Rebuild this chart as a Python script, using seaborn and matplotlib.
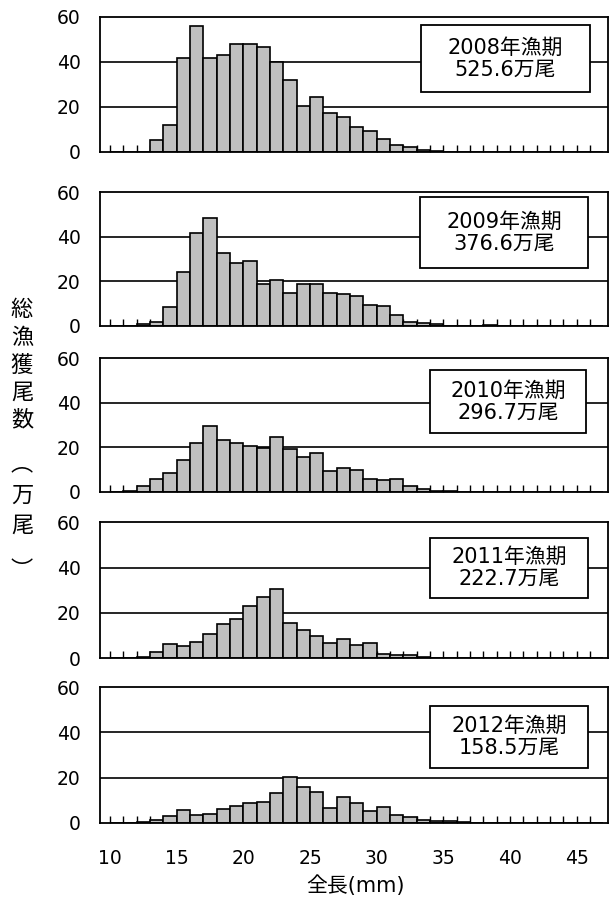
import numpy as np
import pandas as pd
import matplotlib
matplotlib.use("Agg")
import matplotlib.pyplot as plt
from matplotlib.patches import Rectangle
import seaborn as sns

sns.set_style("white")
plt.rcParams['font.family'] = ['DejaVu Sans', 'Noto Sans CJK JP']
plt.rcParams['text.color'] = 'black'
plt.rcParams['xtick.color'] = 'black'
plt.rcParams['ytick.color'] = 'black'
plt.rcParams['axes.labelcolor'] = 'black'

# length bins (mm, left edge of each 1 mm class)
length_bins = list(range(11, 39))

catch_2008 = [0, 0, 5, 12, 41.5, 56, 41.5, 43, 48, 47.7, 46.5, 40, 31.9, 20.3,
              24.1, 17.3, 15.6, 11, 9.2, 5.5, 3.2, 2.0, 0.9, 0.5, 0, 0, 0, 0]
catch_2009 = [0, 0.7, 1.5, 8.5, 24.3, 41.5, 48.3, 32.5, 28, 29.2, 18.6, 20.5, 14.8, 18.6,
              18.6, 14.8, 14.4, 13.5, 9.5, 8.7, 4.8, 1.8, 1.4, 0.8, 0, 0, 0, 0.3]
catch_2010 = [0.4, 2.5, 5.5, 8.5, 14.2, 21.7, 29.7, 23.2, 21.7, 20.5, 19.5, 24.4, 19.2, 15.4,
              17.5, 9.5, 10.6, 9.6, 5.8, 5.1, 5.8, 2.7, 1.2, 0.3, 0.2, 0, 0, 0]
catch_2011 = [0.3, 0.7, 2.9, 6.2, 5.4, 7.4, 10.7, 15, 17.4, 23.1, 27.2, 30.4, 15.7, 12.5,
              10, 6.8, 8.3, 5.9, 6.6, 2.0, 1.6, 1.5, 0.4, 0.2, 0, 0, 0, 0]
catch_2012 = [0, 0.4, 1.2, 3.0, 5.6, 3.4, 3.8, 5.9, 7.5, 8.6, 9.3, 13, 20.4, 16,
              13.4, 6.4, 11.2, 8.6, 5.0, 6.8, 3.5, 2.6, 1.1, 0.6, 0.6, 0.3, 0, 0]

years = ["2008年漁期", "2009年漁期", "2010年漁期", "2011年漁期", "2012年漁期"]
totals = ["525.6万尾", "376.6万尾", "296.7万尾", "222.7万尾", "158.5万尾"]
series = [catch_2008, catch_2009, catch_2010, catch_2011, catch_2012]

# panel layout in pixels (top, bottom) and label boxes (left, right, top, bottom) in pixels
W, H = 614, 900
panels = [(16.7, 151.7), (192.3, 325.7), (358.3, 491.7), (522.3, 658.3), (687.3, 822.7)]
boxes = [(421, 590, 25, 92), (420, 588, 197, 268), (430, 586, 370, 433),
         (430, 588, 538, 598), (430, 588, 706, 768)]

fig = plt.figure(figsize=(W / 100, H / 100), dpi=100)

for i, (vals, (top, bot)) in enumerate(zip(series, panels)):
    ax = fig.add_axes([100 / W, 1 - bot / H, 508 / W, (bot - top) / H])
    df = pd.DataFrame({"length": np.array(length_bins) + 0.5, "count": vals})
    df = df[df["count"] > 0]
    sns.histplot(data=df, x="length", weights="count", binwidth=1, binrange=(10, 47),
                 ax=ax, color="#c0c0c0", edgecolor="black", linewidth=1.2, alpha=1,
                 zorder=3)
    ax.set_xlim(9.25, 47.35)
    ax.set_ylim(0, 60)
    ax.set_yticks([0, 20, 40, 60])
    for g in [20, 40]:
        ax.axhline(g, color="black", lw=1.2, zorder=1)
    ax.set_xticks(range(10, 47))
    if i == 4:
        ax.set_xticklabels([str(t) if t % 5 == 0 else "" for t in range(10, 47)])
    else:
        ax.set_xticklabels([])
    ax.tick_params(axis="x", direction="in", length=5, width=1.0, pad=19,
                   labelsize=13.5, bottom=True, colors="black")
    ax.tick_params(axis="y", length=0, pad=14, labelsize=13.5, colors="black")
    for s in ax.spines.values():
        s.set_color("black")
        s.set_linewidth(1.3)
        s.set_visible(True)
        s.set_zorder(5)
    ax.set_xlabel("")
    ax.set_ylabel("")

    # label box
    bl, br, bt, bb = boxes[i]
    ax_w, ax_h = 508, bot - top
    x0 = (bl - 100) / ax_w
    y0 = 1 - (bb - top) / ax_h
    ax.add_patch(Rectangle((x0, y0), (br - bl) / ax_w, (bb - bt) / ax_h,
                           transform=ax.transAxes, facecolor="white",
                           edgecolor="black", lw=1.3, zorder=6))
    cx = ((bl + br) / 2 - 100) / ax_w
    cy = 1 - ((bt + bb) / 2 - top) / ax_h
    ax.text(cx, cy, years[i] + "\n" + totals[i], transform=ax.transAxes,
            ha="center", va="center", fontsize=15, linespacing=1.1, zorder=7,
            color="black")

fig.text(355 / W, 1 - 886 / H, "全長(mm)", ha="center", va="center", fontsize=15,
         color="black")

# vertical y label, one character per line
ylabel_chars = list("総漁獲尾数︵万尾︶")
ylabel_y = [310, 338, 365, 392, 420, 464, 495, 525, 570]
for ch, yy in zip(ylabel_chars, ylabel_y):
    fig.text(22 / W, 1 - yy / H, ch, ha="center", va="center", fontsize=16,
             family=['Noto Sans CJK JP', 'DejaVu Sans'], color="black")

fig.savefig("out.png", dpi=100)
